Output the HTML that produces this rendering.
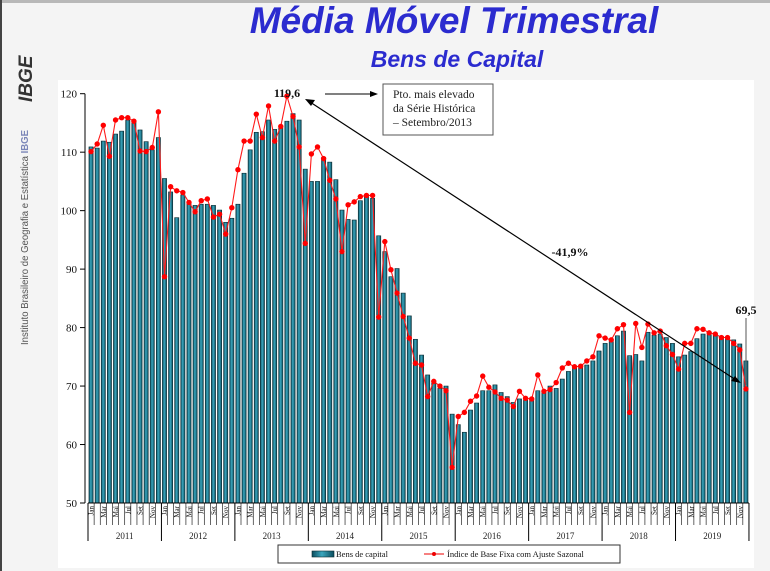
<!DOCTYPE html>
<html><head><meta charset="utf-8"><style>
html,body{margin:0;padding:0;background:#f4f4f4;}
svg{display:block;font-family:"Liberation Serif",serif;}
</style></head><body>
<svg width="770" height="571" viewBox="0 0 770 571">
<defs>
<linearGradient id="bg" x1="0" x2="1" y1="0" y2="0"><stop offset="0" stop-color="#0b4d5e"/><stop offset="0.45" stop-color="#3aa6bd"/><stop offset="1" stop-color="#0b4d5e"/></linearGradient>
</defs>
<rect x="0" y="0" width="770" height="571" fill="#f4f4f4"/>
<rect x="0" y="0" width="770" height="3" fill="#b8b8b8"/>
<rect x="0" y="0" width="2" height="571" fill="#444"/>
<rect x="58" y="80" width="696" height="488" fill="#ffffff"/>
<g>
<text transform="translate(32,102) rotate(-90)" font-family="Liberation Sans,sans-serif" font-weight="bold" font-style="italic" font-size="19" fill="#333" text-anchor="start">IBGE</text>
<text transform="translate(28,345) rotate(-90)" font-family="Liberation Sans,sans-serif" font-size="10.5" fill="#555" textLength="215" lengthAdjust="spacingAndGlyphs">Instituto Brasileiro de Geografia e Estatística <tspan fill="#7b86b8" font-weight="bold">IBGE</tspan></text>
</g>
<text x="454" y="33" text-anchor="middle" font-family="Liberation Sans,sans-serif" font-weight="bold" font-style="italic" font-size="37" fill="#2b2bcf">Média Móvel Trimestral</text>
<text x="457" y="67" text-anchor="middle" font-family="Liberation Sans,sans-serif" font-weight="bold" font-style="italic" font-size="23" fill="#2b2bcf">Bens de Capital</text>
<g id="axes"></g>
<g id="bars"></g>
<g id="line"></g>
<g id="xaxis"></g>
<g>
<text x="287" y="97" font-size="12" font-weight="bold" text-anchor="middle" fill="#111">119,6</text>
<line x1="325" y1="94" x2="372" y2="94" stroke="#000" stroke-width="1"/>
<polygon points="378,94 370,91 370,97" fill="#000"/>
<rect x="383" y="84" width="110" height="51" fill="#fff" stroke="#555" stroke-width="1"/>
<text x="393" y="98" font-size="11.5" fill="#222">Pto. mais elevado</text>
<text x="393" y="112" font-size="11.5" fill="#222">da Série Histórica</text>
<text x="393" y="126" font-size="11.5" fill="#222">– Setembro/2013</text>
<line x1="310" y1="102" x2="736" y2="380" stroke="#000" stroke-width="1.2"/>
<polygon points="305,99 315,100 311,106" fill="#000"/>
<polygon points="741,383 731,381 735,376" fill="#000"/>
<text x="570" y="256" font-size="12" font-weight="bold" text-anchor="middle" fill="#111">-41,9%</text>
<text x="746" y="314" font-size="12" font-weight="bold" text-anchor="middle" fill="#111">69,5</text>
<line x1="746" y1="318" x2="746" y2="385" stroke="#555" stroke-width="1"/>
</g>
<g>
<rect x="278" y="545" width="342" height="18" fill="#fff" stroke="#333" stroke-width="1"/>
<rect x="312" y="551" width="22" height="6" fill="url(#bg)" stroke="#0a2a30" stroke-width="0.6"/>
<text x="336" y="557" font-size="8.5" fill="#111">Bens de capital</text>
<line x1="424" y1="554" x2="444" y2="554" stroke="#e00" stroke-width="1"/>
<circle cx="434" cy="554" r="2" fill="#e00"/>
<text x="447" y="557" font-size="8.5" fill="#111">Índice de Base Fixa com Ajuste Sazonal</text>
</g>
</svg>
<script>
const years = ["2011","2012","2013","2014","2015","2016","2017","2018","2019"];
const monthLabels = ["Jan","Mar","Mai","Jul","Set","Nov"];
const yTicks = [50,60,70,80,90,100,110,120];
const barValues = [110.9,110.7,111.9,111.7,113.1,113.6,115.5,115.2,113.8,111.8,110.4,112.5,
105.5,103.2,98.8,102.7,101.4,100.9,101.1,101.1,100.9,100.1,98.0,98.7,
101.1,106.4,110.4,113.4,113.5,115.5,113.9,114.1,115.3,116.6,115.5,107.1,
105.0,105.0,109.1,108.3,105.3,100.1,98.5,98.4,101.7,102.4,102.1,95.7,
93.0,88.7,90.1,85.9,82.0,78.0,75.3,71.9,70.5,69.6,70.0,65.2,
63.4,62.1,65.9,67.1,69.2,69.2,70.2,68.9,68.2,67.2,67.8,67.6,
67.8,69.2,68.9,70.0,69.6,71.2,72.5,73.1,73.2,73.6,74.3,76.0,
77.3,77.6,78.6,79.4,75.2,75.4,74.3,79.2,78.7,78.9,78.3,77.3,
75.0,75.3,75.9,78.1,78.9,78.8,78.8,78.5,78.2,77.9,77.2,74.3];
const lineValues = [110.1,111.4,114.6,109.3,115.5,115.9,115.9,115.3,110.2,110.1,110.8,116.9,
88.7,104.1,103.4,103.1,101.4,99.8,101.7,102.0,98.9,99.4,96.0,100.5,
107.0,111.9,111.9,116.5,112.5,117.9,111.9,114.4,119.6,116.1,110.9,94.4,
109.7,110.9,108.9,105.2,102.0,93.0,101.0,101.5,102.4,102.6,102.6,81.8,
94.7,89.9,85.9,81.9,78.2,73.9,73.6,68.2,70.8,70.0,69.2,56.1,
64.8,65.5,67.4,68.3,71.7,69.8,69.0,67.9,67.6,66.5,69.1,67.9,
67.8,71.9,69.1,69.4,70.6,73.1,73.9,73.3,73.4,74.3,75.0,78.6,
78.2,77.9,79.8,80.5,65.5,80.7,76.6,80.6,79.1,79.4,76.9,75.4,
72.9,77.3,77.3,79.8,79.7,79.1,78.9,78.3,78.3,77.3,76.2,69.5];

const NS="http://www.w3.org/2000/svg";
const X0=88, MW=6.12, YMIN=50, YMAX=120, YT=93.7, YB=503;
function xPos(i){return X0+(i+0.5)*MW;}
function yPos(v){return YB-(v-YMIN)/(YMAX-YMIN)*(YB-YT);}
function mk(tag,attrs,parent){const e=document.createElementNS(NS,tag);for(const k in attrs)e.setAttribute(k,attrs[k]);parent.appendChild(e);return e;}

const axes=document.getElementById('axes');
let ax=mk('line',{x1:85,y1:YT,x2:85,y2:YB,stroke:'#000','stroke-width':1},axes);


yTicks.forEach(t=>{
  const y=yPos(t);
  const tk=mk('line',{x1:80,y1:y,x2:85,y2:y,stroke:'#000','stroke-width':1},axes);
  
  
  const tx=mk('text',{x:77,y:y+4,'text-anchor':'end','font-size':11,fill:'#111'},axes);
  tx.textContent=t;
  
  
});

const bars=document.getElementById('bars');
barValues.forEach((v,i)=>{
  const y=yPos(v);
  const r=mk('rect',{x:xPos(i)-2.1,y:y,width:4.2,height:YB-y,fill:'url(#bg)',stroke:'#0a2a30','stroke-width':0.6},bars);
  
  
});

const lg=document.getElementById('line');
const pts=lineValues.map((v,i)=>xPos(i).toFixed(1)+','+yPos(v).toFixed(1)).join(' ');
const pl=mk('polyline',{points:pts,fill:'none',stroke:'#ff1a1a','stroke-width':1.1},lg);


lineValues.forEach((v,i)=>{
  const c=mk('circle',{cx:xPos(i),cy:yPos(v),r:2.7,fill:'#f00'},lg);
  
  
});

const xa=document.getElementById('xaxis');
const base=mk('line',{x1:X0,y1:YB,x2:X0+barValues.length*MW,y2:YB,stroke:'#000','stroke-width':1},xa);


for(let i=0;i<=barValues.length;i++){
  const x=X0+i*MW;
  const isYear=i%12===0;
  const tk=mk('line',{x1:x,y1:YB,x2:x,y2:isYear?541:YB+22,stroke:'#000','stroke-width':isYear?1:0.6},xa);
  
  
}
for(let i=0;i<barValues.length;i+=2){
  const x=xPos(i)+2.5;
  const t=mk('text',{transform:`translate(${x},${YB+3}) rotate(-90)`,'text-anchor':'end','font-size':7,fill:'#111'},xa);
  t.textContent=monthLabels[(i%12)/2];
  
  
}
years.forEach((yr,k)=>{
  const t=mk('text',{x:X0+(k*12+6)*MW,y:539,'text-anchor':'middle','font-size':9,fill:'#222'},xa);
  t.textContent=yr;
  
  
});
</script>
</body></html>
